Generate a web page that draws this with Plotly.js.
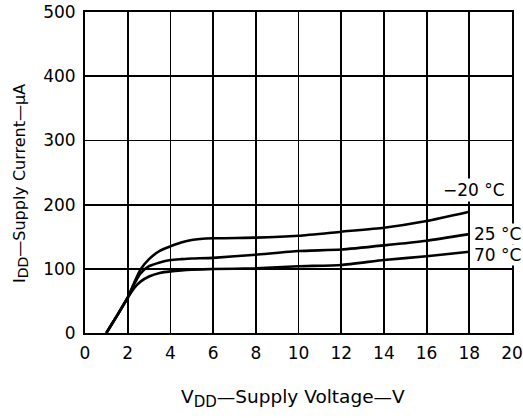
<!DOCTYPE html>
<html>
<head>
<meta charset="utf-8">
<script src="https://cdn.plot.ly/plotly-3.0.1.min.js"></script>
<style>html,body{margin:0;padding:0;background:#fff;}#chart{width:523px;height:418px;}</style>
</head>
<body>
<div id="chart"></div>
<script>
// Supply voltage (V)
const vdd = [1, 1.5, 2, 2.3, 2.6, 3, 3.5, 4, 4.5, 5, 6, 8, 10, 12, 14, 16, 18];
// Supply current (µA) per temperature
const iddMinus20 = [0, 27, 55, 78, 99, 115, 128, 135, 141, 145, 147.5, 148.5, 151.5, 157.8, 164, 174.5, 189];
const idd25 = [0, 27, 55, 76, 93, 104, 110, 113.7, 115, 116, 117, 122, 127.7, 130, 136.5, 143.8, 154];
const idd70 = [0, 27, 55, 70, 80, 88, 93.5, 96, 97.5, 98.5, 99.7, 100.7, 104, 106, 113.7, 119.5, 126.6];
const xTicks = [0, 2, 4, 6, 8, 10, 12, 14, 16, 18, 20];
const yTicks = [0, 100, 200, 300, 400, 500];
const seriesLabels = ['\u221220 \u00B0C', '25 \u00B0C', '70 \u00B0C'];

const FONT = 'DejaVu Sans, sans-serif';
const line = {color: '#000', width: 2.6, shape: 'spline', smoothing: 0.5};
const traces = [iddMinus20, idd25, idd70].map((y, i) => ({
  x: vdd, y: y, type: 'scatter', mode: 'lines', line: line, name: seriesLabels[i], hoverinfo: 'skip'
}));

const axisCommon = {
  showgrid: true, gridcolor: '#000', gridwidth: 1.8,
  showline: true, linecolor: '#000', linewidth: 2, mirror: true,
  zeroline: false, ticks: '', tickfont: {family: FONT, size: 17, color: '#000'}
};

const layout = {
  width: 523, height: 418,
  margin: {l: 85, r: 11, t: 12, b: 85},
  paper_bgcolor: '#fff', plot_bgcolor: '#fff',
  showlegend: false,
  xaxis: Object.assign({}, axisCommon, {range: [0, 20], tickvals: xTicks, ticktext: xTicks.map(String), ticklabelstandoff: 4}),
  yaxis: Object.assign({}, axisCommon, {range: [0, 500], tickvals: yTicks, ticktext: yTicks.map(String), ticklabelstandoff: 4}),
  annotations: [
    {x: 19.77, y: 223, xref: 'x', yref: 'y', text: seriesLabels[0], showarrow: false, xanchor: 'right', yanchor: 'middle', bgcolor: '#fff', font: {family: FONT, size: 17, color: '#000'}, borderpad: 1},
    {x: 18.16, y: 154, xref: 'x', yref: 'y', text: seriesLabels[1], showarrow: false, xanchor: 'left', yanchor: 'middle', bgcolor: '#fff', font: {family: FONT, size: 17, color: '#000'}, borderpad: 0},
    {x: 18.16, y: 121.5, xref: 'x', yref: 'y', text: seriesLabels[2], showarrow: false, xanchor: 'left', yanchor: 'middle', bgcolor: '#fff', font: {family: FONT, size: 17, color: '#000'}, borderpad: 0},
    {x: 0, y: 0, xref: 'paper', yref: 'paper', text: 'V<sub><span style="font-size:15px">DD</span></sub>\u2014Supply Voltage\u2014V', showarrow: false, xanchor: 'center', yanchor: 'middle', font: {family: FONT, size: 18.5, color: '#000'}},
    {x: 0, y: 0, xref: 'paper', yref: 'paper', text: 'I<sub><span style="font-size:14px">DD</span></sub>\u2014Supply Current\u2014\u00B5A', textangle: -90, showarrow: false, xanchor: 'center', yanchor: 'middle', font: {family: FONT, size: 16, color: '#000'}}
  ]
};
// convert pixel positions of titles to paper coordinates
const pw = 523 - 85 - 11, ph = 418 - 12 - 85;
layout.annotations[3].x = (293 - 85) / pw; layout.annotations[3].y = (418 - 85 - 398) / ph;
layout.annotations[4].x = (20 - 85) / pw; layout.annotations[4].y = (418 - 85 - 184) / ph;

Plotly.newPlot('chart', traces, layout, {staticPlot: true, displayModeBar: false});
</script>
</body>
</html>
